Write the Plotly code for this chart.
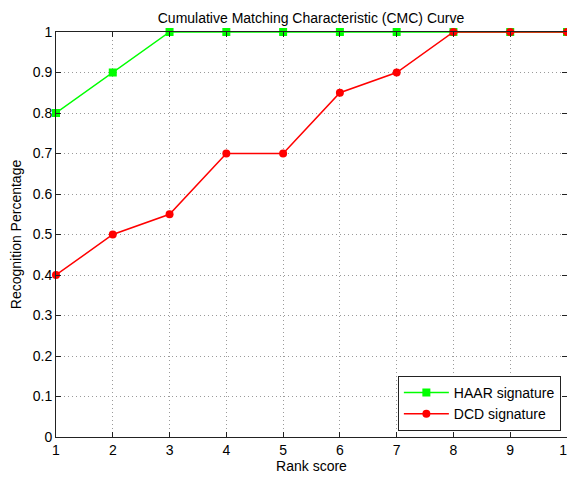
import plotly.graph_objects as go

ranks = [1, 2, 3, 4, 5, 6, 7, 8, 9, 10]
haar = [0.8, 0.9, 1.0, 1.0, 1.0, 1.0, 1.0, 1.0, 1.0, 1.0]
dcd = [0.4, 0.5, 0.55, 0.7, 0.7, 0.85, 0.9, 1.0, 1.0, 1.0]
yticks = [0, 0.1, 0.2, 0.3, 0.4, 0.5, 0.6, 0.7, 0.8, 0.9, 1]
ytick_text = ["0", "0.1", "0.2", "0.3", "0.4", "0.5", "0.6", "0.7", "0.8", "0.9", "1"]

FONT = "Liberation Sans, Arial, Helvetica, sans-serif"

# The page puts the figure 8px from the top-left corner, so the figure is
# sized to the remaining window area.
W, H = 567, 471

fig = go.Figure()
fig.add_trace(go.Scatter(
    x=ranks, y=haar, mode="lines+markers", name="HAAR signature",
    line=dict(color="#00ff00", width=1.5),
    marker=dict(symbol="square", size=8, color="#00ff00"),
    cliponaxis=False,
))
fig.add_trace(go.Scatter(
    x=ranks, y=dcd, mode="lines+markers", name="DCD signature",
    line=dict(color="#ff0000", width=1.5),
    marker=dict(symbol="circle", size=8, color="#ff0000"),
    cliponaxis=False,
))

axis_common = dict(
    showline=True, linecolor="#222222", linewidth=1, mirror="ticks",
    ticks="inside", ticklen=5, tickcolor="#222222",
    showgrid=True, gridcolor="#9a9a9a", griddash="1px,3px", gridwidth=1,
    zeroline=False, tickfont=dict(family=FONT, size=14, color="black"),
    automargin=False,
)

fig.update_layout(
    width=W, height=H,
    margin=dict(l=48, r=8, t=24, b=42),
    paper_bgcolor="white", plot_bgcolor="white",
    title=dict(text="Cumulative Matching Characteristic (CMC) Curve",
               x=303 / W, xanchor="center", y=1 - 10 / H, yanchor="middle",
               font=dict(family=FONT, size=14, color="black"), automargin=False),
    xaxis=dict(range=[1, 10], tickvals=ranks, ticktext=[str(r) for r in ranks],
               title=dict(text="Rank score", font=dict(family=FONT, size=14, color="black"), standoff=4),
               **axis_common),
    yaxis=dict(range=[0, 1], tickvals=yticks, ticktext=ytick_text,
               title=dict(text="Recognition Percentage", font=dict(family=FONT, size=14, color="black"), standoff=8),
               **axis_common),
    legend=dict(x=0.988, y=0.015, xanchor="right", yanchor="bottom",
                bgcolor="white", bordercolor="#222222", borderwidth=1,
                font=dict(family=FONT, size=14, color="black"),
                tracegroupgap=0, itemwidth=45),
    showlegend=True,
)

fig.write_html("out.html")
